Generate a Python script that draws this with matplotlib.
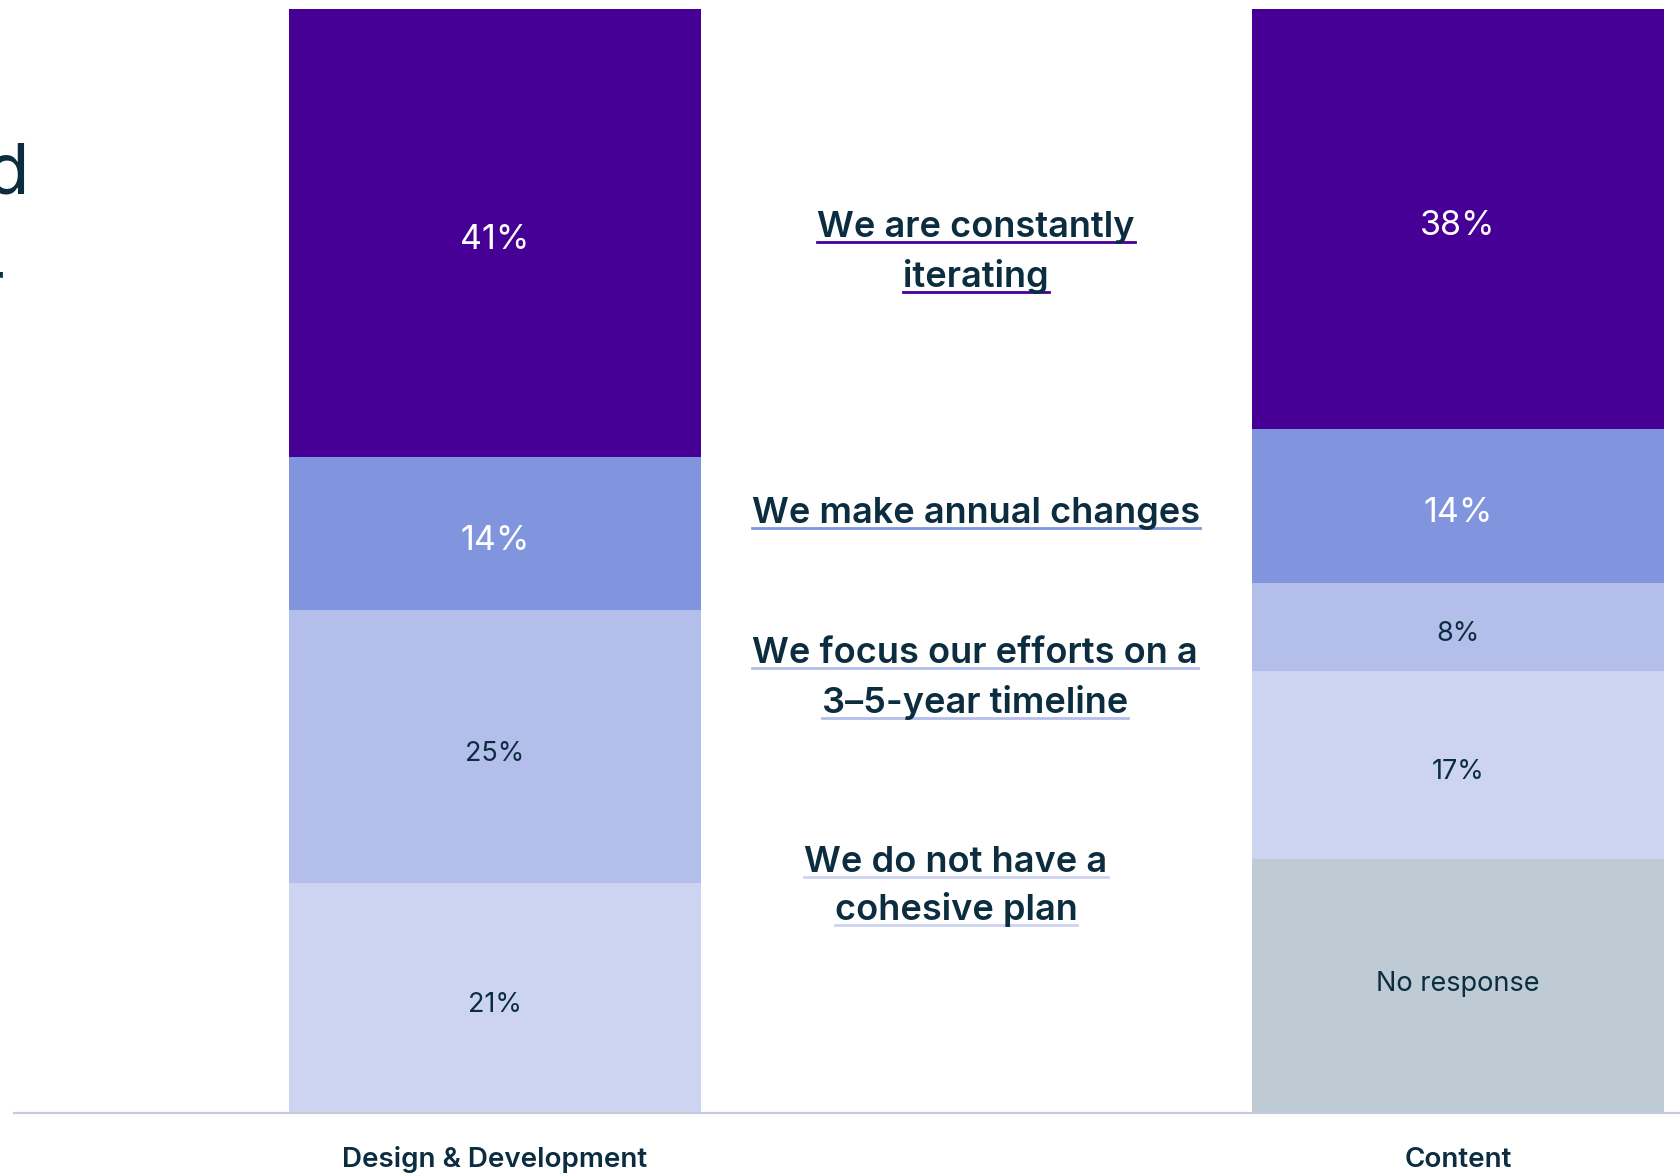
import matplotlib
matplotlib.use("Agg")
import matplotlib.pyplot as plt
import matplotlib.transforms as mtransforms
from matplotlib.lines import Line2D
import numpy as np

# ---- data -------------------------------------------------------------
groups = ["Design & Development", "Content"]
categories = [
    "We are constantly iterating",
    "We make annual changes",
    "We focus our efforts on a 3–5-year timeline",
    "We do not have a cohesive plan",
    "No response",
]
design_dev = [41, 14, 25, 21, 0]
content = [38, 14, 8, 17, 23]
segment_labels = [
    ["41%", "14%", "25%", "21%", ""],
    ["38%", "14%", "8%", "17%", "No response"],
]
# wrapped category captions shown between the two bars
caption_lines = [
    ["We are constantly", "iterating"],
    ["We make annual changes"],
    ["We focus our efforts on a", "3–5-year timeline"],
    ["We do not have a", "cohesive plan"],
]

# ---- style ------------------------------------------------------------
colors = ["#470096", "#8095DD", "#B3BEEA", "#CDD4F1", "#BECAD4"]
label_colors = ["white", "white", "#0B2D3F", "#0B2D3F", "#0B2D3F"]
label_sizes = [24.5, 24.5, 19.5, 19.5, 19.5]
ink = "#0B2D3F"
FONT = ["Inter", "DejaVu Sans"]

W, H = 1681, 1173
fig = plt.figure(figsize=(W / 100, H / 100), dpi=100)
fig.patch.set_facecolor("white")


def fy(px):
    return (H - px) / H


def fx(px):
    return px / W


base_px, top_px = 1113, 9
ax = fig.add_axes([0, fy(base_px), 1, fy(top_px) - fy(base_px)])
ax.set_xlim(-0.514, 1.2316)
ax.set_ylim(0, 100)
ax.axis("off")

x = np.arange(len(groups))
bar_w = 0.428
series = np.array([design_dev, content], dtype=float)


def nudged(dy_pt):
    return ax.transData + mtransforms.ScaledTranslation(
        0, dy_pt / 72, fig.dpi_scale_trans)


for gi, vals in enumerate(series):
    shares = vals / vals.sum() * 100
    tops = 100 - np.concatenate([[0], np.cumsum(shares)[:-1]])
    bottoms = tops - shares
    for ci, (s, b) in enumerate(zip(shares, bottoms)):
        if s <= 0:
            continue
        ax.bar(x[gi], s, bottom=b, width=bar_w, color=colors[ci],
               linewidth=0)
        lab = segment_labels[gi][ci]
        if lab:
            # percentages sit a little below centre, words a touch above
            dy = -5 if lab.endswith("%") else 1.5
            ax.text(x[gi], b + s / 2, lab, ha="center", va="center",
                    color=label_colors[ci], fontsize=label_sizes[ci],
                    family=FONT, transform=nudged(dy))

# baseline rule
fig.add_artist(Line2D([fx(14), 1], [fy(base_px), fy(base_px)],
                      color="#C3CCD7", lw=1.6))

# group names under the bars
xt = mtransforms.blended_transform_factory(ax.transData, fig.transFigure)
for gi, g in enumerate(groups):
    ax.text(x[gi], fy(1167), g, transform=xt, ha="center", va="baseline",
            fontsize=20, fontweight="semibold", color=ink, family=FONT)

# category captions with coloured underlines
caption_pos = [
    (976, [237, 287]),
    (976, [523]),
    (975, [663, 713]),
    (956, [872, 920]),
]
texts = []
for ci, lines in enumerate(caption_lines):
    cx, bases = caption_pos[ci]
    for line, by in zip(lines, bases):
        t = fig.text(fx(cx), fy(by), line, ha="center", va="baseline",
                     fontsize=26, fontweight="semibold", color=ink,
                     family=FONT)
        texts.append((t, by, colors[ci]))

# fragments of the slide heading at the left edge
fig.text(fx(29), fy(193), "d", ha="right", va="baseline", fontsize=51,
         fontweight="normal", color=ink, family=FONT)
fig.text(fx(4), fy(311), "r", ha="right", va="baseline", fontsize=51,
         fontweight="normal", color=ink, family=FONT)

fig.canvas.draw()
renderer = fig.canvas.get_renderer()
for t, by, c in texts:
    bb = t.get_window_extent(renderer)
    fig.add_artist(Line2D([bb.x0 / W, bb.x1 / W], [fy(by + 5), fy(by + 5)],
                          color=c, lw=2.0, zorder=0))

fig.savefig("out.png", dpi=100, facecolor="white")
